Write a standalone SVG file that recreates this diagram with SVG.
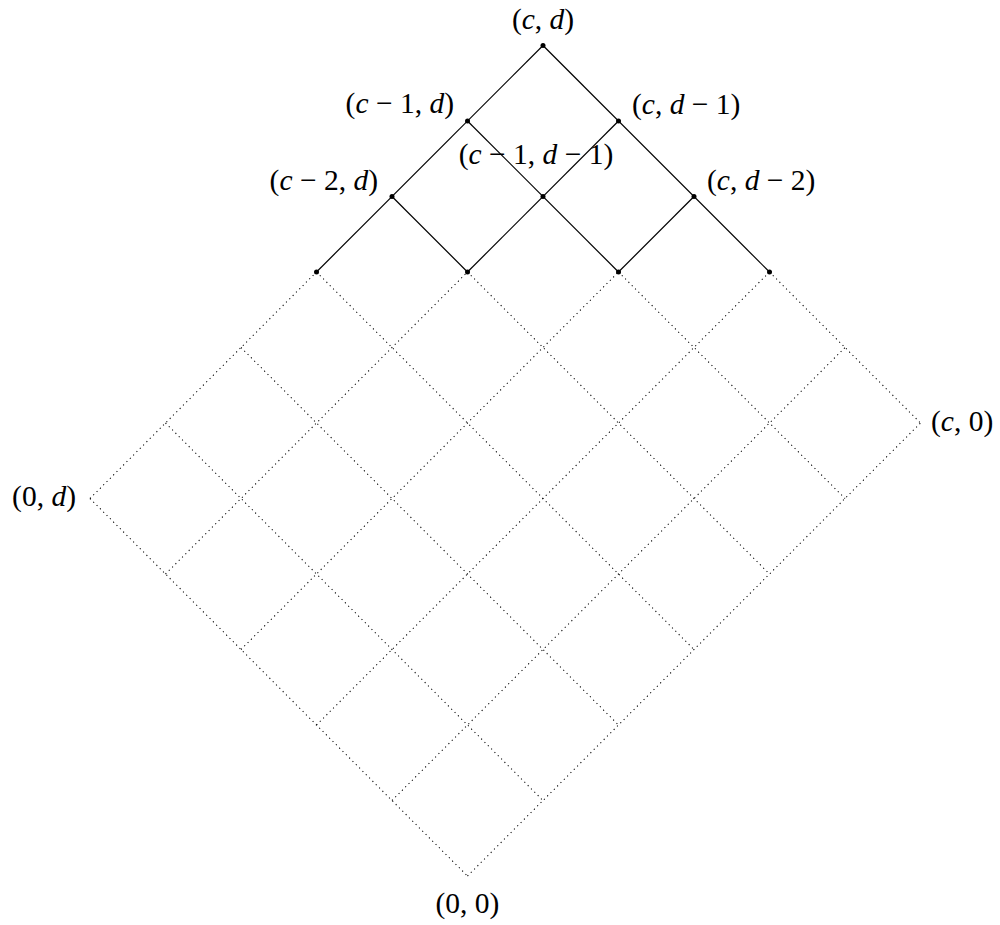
<svg xmlns="http://www.w3.org/2000/svg" width="1000" height="925" viewBox="0 0 1000 925">
<style>
.dot{stroke:#000;stroke-width:1.1;stroke-dasharray:1.1 3.6;fill:none}
.sol{stroke:#000;stroke-width:1.2;fill:none}
.pt{fill:#000}
text{font-family:"Liberation Serif","DejaVu Serif",serif;font-size:29.5px;fill:#000}
.i{font-style:italic}
</style>
<rect width="1000" height="925" fill="#fff"/>
<g id="connectors">
<g id="dotted">
<line class="dot" x1="90" y1="498.5" x2="316.5" y2="272"/>
<line class="dot" x1="165.5" y1="574" x2="467.5" y2="272"/>
<line class="dot" x1="241" y1="649.5" x2="618.5" y2="272"/>
<line class="dot" x1="316.5" y1="725" x2="769.5" y2="272"/>
<line class="dot" x1="392" y1="800.5" x2="845" y2="347.5"/>
<line class="dot" x1="467.5" y1="876" x2="920.5" y2="423"/>
<line class="dot" x1="769.5" y1="272" x2="920.5" y2="423"/>
<line class="dot" x1="618.5" y1="272" x2="845" y2="498.5"/>
<line class="dot" x1="467.5" y1="272" x2="769.5" y2="574"/>
<line class="dot" x1="316.5" y1="272" x2="694" y2="649.5"/>
<line class="dot" x1="241" y1="347.5" x2="618.5" y2="725"/>
<line class="dot" x1="165.5" y1="423" x2="543" y2="800.5"/>
<line class="dot" x1="90" y1="498.5" x2="467.5" y2="876"/>
</g>
<g id="solid">
<line class="sol" x1="543" y1="45.5" x2="316.5" y2="272"/>
<line class="sol" x1="618.5" y1="121" x2="467.5" y2="272"/>
<line class="sol" x1="694" y1="196.5" x2="618.5" y2="272"/>
<line class="sol" x1="543" y1="45.5" x2="769.5" y2="272"/>
<line class="sol" x1="467.5" y1="121" x2="618.5" y2="272"/>
<line class="sol" x1="392" y1="196.5" x2="467.5" y2="272"/>
</g>
</g>
<g id="n-cd"><circle class="pt" cx="543" cy="45.5" r="2.5"/><text x="543" y="29" text-anchor="middle">(<tspan class="i">c</tspan>, <tspan class="i">d</tspan>)</text></g>
<g id="n-c1d"><circle class="pt" cx="467.5" cy="121" r="2.5"/><text x="454" y="113" text-anchor="end">(<tspan class="i">c</tspan> − 1, <tspan class="i">d</tspan>)</text></g>
<g id="n-cd1"><circle class="pt" cx="618.5" cy="121" r="2.5"/><text x="632" y="114">(<tspan class="i">c</tspan>, <tspan class="i">d</tspan> − 1)</text></g>
<g id="n-c2d"><circle class="pt" cx="392" cy="196.5" r="2.5"/><text x="378" y="190" text-anchor="end">(<tspan class="i">c</tspan> − 2, <tspan class="i">d</tspan>)</text></g>
<g id="n-c1d1"><circle class="pt" cx="543" cy="196.5" r="2.5"/><text x="536" y="164" text-anchor="middle">(<tspan class="i">c</tspan> − 1, <tspan class="i">d</tspan> − 1)</text></g>
<g id="n-cd2"><circle class="pt" cx="694" cy="196.5" r="2.5"/><text x="707" y="190">(<tspan class="i">c</tspan>, <tspan class="i">d</tspan> − 2)</text></g>
<g id="n-r3a"><circle class="pt" cx="316.5" cy="272" r="2.5"/></g>
<g id="n-r3b"><circle class="pt" cx="467.5" cy="272" r="2.5"/></g>
<g id="n-r3c"><circle class="pt" cx="618.5" cy="272" r="2.5"/></g>
<g id="n-r3d"><circle class="pt" cx="769.5" cy="272" r="2.5"/></g>
<g id="n-0d"><text x="76" y="506" text-anchor="end">(0, <tspan class="i">d</tspan>)</text></g>
<g id="n-c0"><text x="931" y="431">(<tspan class="i">c</tspan>, 0)</text></g>
<g id="n-00"><text x="467.5" y="913" text-anchor="middle">(0, 0)</text></g>
</svg>
